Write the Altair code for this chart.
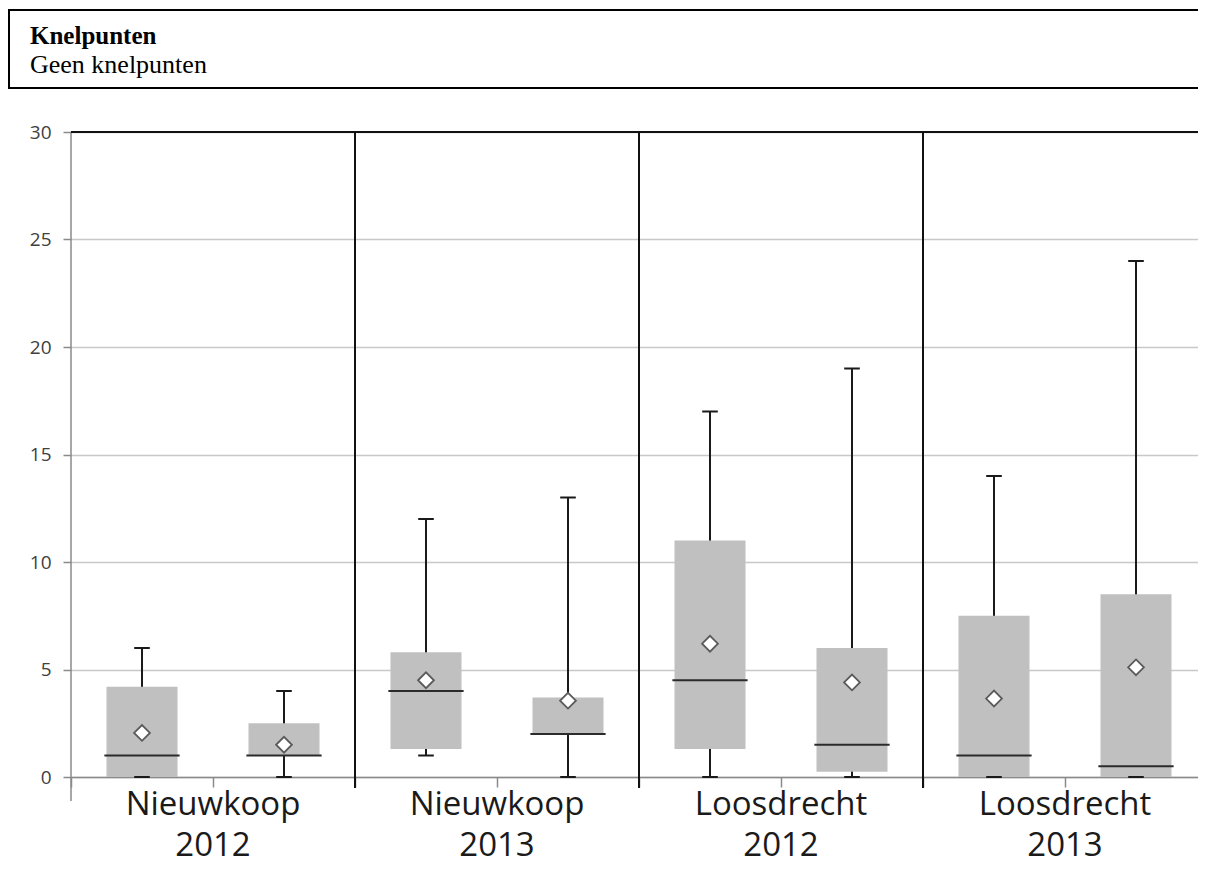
import altair as alt
import pandas as pd

# ---- data ----
places = ["Nieuwkoop", "Nieuwkoop", "Loosdrecht", "Loosdrecht"]
years = ["2012", "2013", "2012", "2013"]
whisker_low = [0, 0, 1, 0, 0, 0, 0, 0]
q1 = [0, 1, 1.3, 2, 1.3, 0.25, 0, 0]
median = [1, 1, 4, 2, 4.5, 1.5, 1, 0.5]
q3 = [4.2, 2.5, 5.8, 3.7, 11, 6, 7.5, 8.5]
whisker_high = [6, 4, 12, 13, 17, 19, 14, 24]
mean = [2.05, 1.5, 4.5, 3.55, 6.2, 4.4, 3.65, 5.1]
y_ticks = [0, 5, 10, 15, 20, 25, 30]
header_title = "Knelpunten"
header_text = "Geen knelpunten"

W, H = 1127, 645      # visible plot area (the plot runs on past the right edge)
FULL_W = 1136         # full width of the x range, as in the reference
n = len(q1)

box = pd.DataFrame({
    "slot": list(range(n)),
    "low": whisker_low, "q1": q1, "median": median,
    "q3": q3, "high": whisker_high, "mean": mean,
})
box["center"] = box["slot"] + 0.5
box["left"] = box["slot"] + 0.25
box["right"] = box["slot"] + 0.75
box["med_l"] = box["slot"] + 0.235
box["med_r"] = box["slot"] + 0.765
box["cap_l"] = box["center"] - 0.055
box["cap_r"] = box["center"] + 0.055

groups = pd.DataFrame({"place": places, "year": years})
groups["center"] = [2 * i + 1 for i in range(len(places))]
seps = pd.DataFrame({"sep": [2 * i for i in range(1, len(places))]})
one = pd.DataFrame({"k": [0]})

xs = alt.Scale(domain=[0, 2 * len(places)], range=[0, FULL_W], nice=False, zero=False)
ys = alt.Scale(domain=[0, 30], nice=False, zero=False)

x_axis = alt.Axis(values=list(range(n + 1)), labels=False, grid=False,
                  domainColor="#8a8a8a", domainWidth=1.5,
                  tickColor="#8a8a8a", tickWidth=1.5, tickSize=10, title=None)
y_axis = alt.Axis(values=y_ticks, grid=True, gridColor="#c8c8c8", gridWidth=1.5,
                  domain=False, tickColor="#8a8a8a", tickWidth=1.5, tickSize=8,
                  labelFont="Open Sans", labelFontSize=19, labelColor="#404040",
                  labelPadding=12, title=None)


def X(f):
    return alt.X(f, type="quantitative", scale=xs, axis=x_axis, title=None)


def Y(f):
    return alt.Y(f, type="quantitative", scale=ys, axis=y_axis, title=None)


base = alt.Chart(box)

whisk = base.mark_rule(color="#1a1a1a", strokeWidth=2).encode(
    x=X("center"), y=Y("low"), y2="high")
rects = base.mark_rect(color="#c0c0c0").encode(
    x=X("left"), x2="right", y=Y("q1"), y2="q3")
med = base.mark_rule(color="#2b2b2b", strokeWidth=2).encode(
    x=X("med_l"), x2="med_r", y=Y("median"))
cap_hi = base.mark_rule(color="#1a1a1a", strokeWidth=2).encode(
    x=X("cap_l"), x2="cap_r", y=Y("high"))
cap_lo = base.mark_rule(color="#1a1a1a", strokeWidth=2).encode(
    x=X("cap_l"), x2="cap_r", y=Y("low"))
means = base.mark_point(shape="diamond", filled=True, fill="white", stroke="#5a5a5a",
                        strokeWidth=1.8, size=250, opacity=1).encode(
    x=X("center"), y=Y("mean"))

yline = alt.Chart(one).mark_rule(color="#8a8a8a", strokeWidth=1.5).encode(
    x=alt.value(0), y=alt.value(0), y2=alt.value(H + 24))
topline = alt.Chart(one).mark_rule(color="#111111", strokeWidth=2).encode(
    x=alt.value(0), x2=alt.value(W + 5), y=alt.value(0))
sep_rules = alt.Chart(seps).mark_rule(color="#111111", strokeWidth=2).encode(
    x=X("sep"), y=alt.value(0), y2=alt.value(H + 11))

lab1 = alt.Chart(groups).mark_text(font="Open Sans", fontSize=33, color="#1a1a1a",
                                   align="center", baseline="alphabetic").encode(
    x=X("center"), y=alt.value(683), text="place:N")
lab2 = alt.Chart(groups).mark_text(font="Open Sans", fontSize=33, color="#1a1a1a",
                                   align="center", baseline="alphabetic").encode(
    x=X("center"), y=alt.value(724), text="year:N")

hdr_box = alt.Chart(one).mark_rect(fill="white", stroke="black", strokeWidth=2).encode(
    x=alt.value(-62), x2=alt.value(W + 20), y=alt.value(-122), y2=alt.value(-44))
hdr1 = alt.Chart(one).mark_text(font="Liberation Serif", fontSize=25, fontWeight="bold",
                                color="black", align="left", baseline="alphabetic").encode(
    x=alt.value(-41), y=alt.value(-88), text=alt.value(header_title))
hdr2 = alt.Chart(one).mark_text(font="Liberation Serif", fontSize=26,
                                color="black", align="left", baseline="alphabetic").encode(
    x=alt.value(-41), y=alt.value(-59), text=alt.value(header_text))

chart = alt.layer(
    whisk, rects, med, cap_hi, cap_lo, means, yline, sep_rules, topline,
    lab1, lab2, hdr_box, hdr1, hdr2,
).properties(
    width=W, height=H,
    padding={"left": 63, "top": 124, "right": 0, "bottom": 90},
    autosize=alt.AutoSizeParams(type="none"),
).configure_view(strokeWidth=0)

chart.save("out.html", embed_options={"renderer": "svg", "actions": False})
